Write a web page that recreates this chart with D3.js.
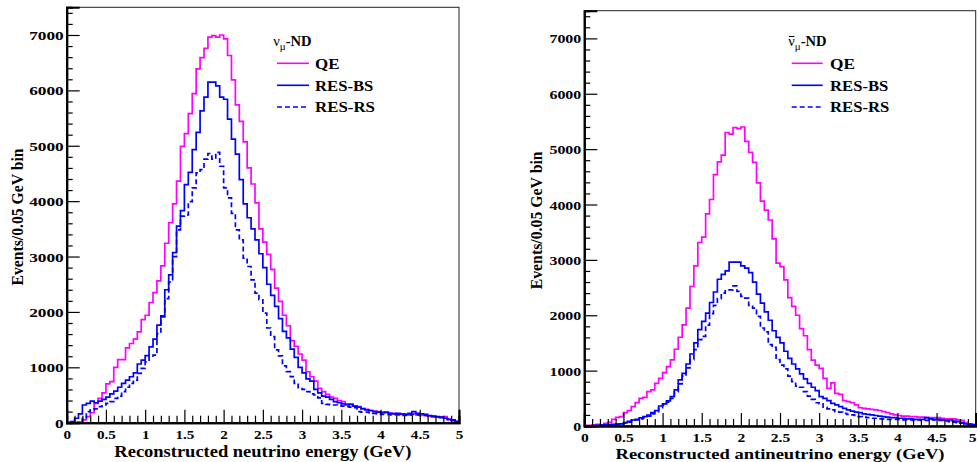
<!DOCTYPE html>
<html>
<head>
<meta charset="utf-8">
<script src="https://cdn.jsdelivr.net/npm/d3@7/dist/d3.min.js"></script>
<style>
  html, body { margin: 0; padding: 0; background: #fff; }
  svg { display: block; }
  text { font-family: "Liberation Serif", "Times New Roman", serif; font-weight: bold; fill: #000; }
</style>
</head>
<body>
<svg id="chart" width="977" height="462"></svg>
<script>
// ---------------- DATA ----------------
const binWidth = 0.05;            // GeV per bin
const xTickValues = [0, 0.5, 1, 1.5, 2, 2.5, 3, 3.5, 4, 4.5, 5];
const yTickValues = [0, 1000, 2000, 3000, 4000, 5000, 6000, 7000];
const seriesNames = ["QE", "RES-BS", "RES-RS"];

// Left panel: nu_mu ND
const nuQE = [
  0, 0, 0, 10, 50, 110, 180, 350, 440, 540,
  700, 740, 1000, 1140, 1140, 1350, 1430, 1510, 1640, 1860,
  1940, 2170, 2350, 2560, 2830, 3240, 3610, 3950, 4360, 4990,
  5220, 5580, 5940, 6390, 6590, 6760, 6960, 6990, 6960, 7000,
  6930, 6630, 6190, 5740, 5440, 5070, 4600, 4310, 3970, 3500,
  3260, 3040, 2770, 2430, 2190, 1940, 1750, 1480, 1380, 1240,
  1130, 920, 830, 750, 620, 560, 510, 460, 440, 400,
  380, 340, 330, 300, 290, 260, 240, 220, 210, 200,
  190, 180, 170, 170, 160, 150, 150, 140, 160, 140,
  130, 130, 120, 110, 100, 100, 110, 60, 40, 30
];
const nuBS = [
  0, 20, 80, 160, 320, 350, 390, 360, 390, 420,
  460, 520, 570, 640, 710, 770, 830, 900, 1060, 1130,
  1210, 1370, 1510, 1760, 1930, 2400, 2670, 3070, 3550, 3830,
  4300, 4520, 4930, 5240, 5630, 5880, 6150, 6150, 6080, 5880,
  5840, 5480, 5120, 4850, 4390, 3950, 3700, 3500, 3300, 3050,
  2800, 2500, 2300, 2100, 1880, 1650, 1530, 1330, 1180, 1000,
  900, 790, 750, 600, 540, 480, 460, 420, 380, 360,
  340, 320, 330, 300, 280, 250, 230, 220, 200, 190,
  180, 190, 170, 160, 170, 160, 150, 170, 200, 170,
  160, 150, 130, 120, 110, 100, 80, 60, 40, 20
];
const nuRS = [
  0, 0, 0, 10, 80, 200, 230, 250, 290, 320,
  350, 380, 440, 480, 560, 640, 710, 770, 890, 980,
  1100, 1200, 1220, 1610, 1910, 2240, 2540, 3000, 3480, 3730,
  3750, 3990, 4240, 4510, 4570, 4760, 4860, 4760, 4880, 4630,
  4240, 4060, 3780, 3480, 3300, 2970, 2820, 2580, 2340, 2220,
  1980, 1710, 1555, 1315, 1206, 1025, 922, 832, 711, 633,
  600, 560, 520, 500, 450, 350, 330, 320, 320, 310,
  300, 290, 280, 270, 200, 190, 190, 180, 170, 160,
  150, 150, 140, 140, 140, 130, 130, 140, 150, 140,
  130, 130, 120, 110, 100, 90, 80, 60, 50, 30
];

// Right panel: anti-nu_mu ND
const nubarQE = [
  10, 10, 20, 30, 18, 48, 66, 120, 157, 169,
  241, 277, 349, 422, 500, 518, 620, 651, 771, 861,
  964, 1072, 1193, 1386, 1603, 1826, 2127, 2519, 2893, 3314,
  3410, 3830, 4090, 4540, 4770, 4890, 5300, 5270, 5390, 5370,
  5400, 5140, 4940, 4760, 4390, 4060, 3900, 3720, 3380, 2940,
  2880, 2640, 2320, 2160, 2000, 1760, 1630, 1380, 1190, 1100,
  1040, 860, 680, 780, 590, 570, 460, 440, 420, 380,
  330, 320, 310, 300, 290, 280, 260, 240, 220, 200,
  190, 180, 180, 170, 170, 160, 160, 150, 150, 150,
  150, 140, 130, 130, 130, 110, 100, 60, 40, 30
];
const nubarBS = [
  0, 0, 5, 10, 15, 20, 25, 30, 35, 40,
  60, 84, 108, 120, 145, 169, 199, 241, 277, 361,
  398, 452, 530, 651, 832, 952, 1120, 1300, 1500, 1740,
  1890, 2040, 2230, 2420, 2650, 2740, 2800, 2960, 2960, 2960,
  2890, 2850, 2770, 2600, 2380, 2220, 2060, 1910, 1720, 1600,
  1500, 1350, 1220, 1120, 1030, 940, 850, 770, 700, 640,
  530, 500, 460, 410, 380, 350, 320, 290, 270, 250,
  240, 220, 210, 200, 190, 180, 170, 160, 150, 150,
  140, 140, 130, 130, 120, 120, 120, 150, 130, 120,
  120, 110, 100, 110, 90, 80, 60, 40, 30, 20
];
const nubarRS = [
  0, 0, 0, 5, 10, 15, 20, 25, 30, 35,
  50, 70, 90, 110, 130, 150, 180, 220, 260, 330,
  380, 430, 500, 620, 760, 900, 1050, 1200, 1380, 1560,
  1620, 1820, 2030, 2180, 2300, 2400, 2440, 2460, 2530, 2430,
  2340, 2310, 2180, 2130, 1980, 1770, 1700, 1470, 1420, 1200,
  1100, 1030, 900, 800, 720, 700, 620, 540, 480, 420,
  400, 340, 310, 290, 260, 250, 230, 210, 200, 190,
  170, 160, 150, 140, 140, 130, 130, 120, 120, 120,
  120, 110, 110, 110, 100, 110, 100, 100, 120, 110,
  100, 100, 90, 80, 70, 60, 50, 40, 30, 20
];

// ---------------- DRAW ----------------
const svg = d3.select("#chart");
const FONT = "Liberation Serif";
const W = 977;
const colors = { "QE": "#ff00ff", "RES-BS": "#0000ff", "RES-RS": "#0000ff" };
const dashes = { "QE": null, "RES-BS": null, "RES-RS": "5,3" };

// stretch a text to a target width (reference glyphs are wider than the font)
function fit(sel, target) {
  sel.each(function () {
    const w = this.getComputedTextLength();
    if (w > 0) d3.select(this).attr("textLength", target).attr("lengthAdjust", "spacingAndGlyphs");
  });
}

const panels = [
  { id: "L", left: 66.7, right: 459, top: 7.3, bottom: 422.7,
    series: [nuQE, nuBS, nuRS], xTitle: "Reconstructed neutrino energy (GeV)",
    xTitleY: 457, xTitleW: 297, xTitleFont: 16,
    xLabelY: 439.3, yLabelStretch: 1.28, xLabelStretch: 1.12,
    yTitleX: 22.5, yTitleW: 137, anti: false,
    legendX: 273.3, legendLineX0: 277, legendLineX1: 309, legendTextX: 315,
    legendTextW: [24.5, 58.3, 60] },
  { id: "R", left: 584.3, right: 975.7, top: 10.7, bottom: 426,
    series: [nubarQE, nubarBS, nubarRS], xTitle: "Reconstructed antineutrino energy (GeV)",
    xTitleY: 459.3, xTitleW: 329, xTitleFont: 15.5,
    xLabelY: 442, yLabelStretch: 1.18, xLabelStretch: 1.15,
    yTitleX: 541.5, yTitleW: 138, anti: true,
    legendX: 788.3, legendLineX0: 791.7, legendLineX1: 822.7, legendTextX: 830,
    legendTextW: [25, 58.3, 59.3] }
];

panels.forEach(p => {
  const x = d3.scaleLinear().domain([0, 5]).range([p.left, p.right]);
  const y = d3.scaleLinear().domain([0, 7500]).range([p.bottom, p.top]);
  const g = svg.append("g");

  const clipId = "clip" + p.id;
  svg.append("clipPath").attr("id", clipId).append("rect")
    .attr("x", p.left).attr("y", p.top)
    .attr("width", p.right - p.left).attr("height", p.bottom - p.top);

  // frame
  g.append("rect").attr("x", p.left).attr("y", p.top)
    .attr("width", p.right - p.left).attr("height", p.bottom - p.top)
    .attr("fill", "none").attr("stroke", "#222").attr("stroke-width", 1);

  // histograms
  const line = d3.line().x(d => x(d[0])).y(d => y(d[1])).curve(d3.curveStepAfter);
  p.series.forEach((vals, si) => {
    const name = seriesNames[si];
    const pts = vals.map((v, i) => [i * binWidth, v]);
    pts.push([vals.length * binWidth, vals[vals.length - 1]]);
    g.append("path").attr("d", line(pts))
      .attr("clip-path", `url(#${clipId})`)
      .attr("fill", "none").attr("stroke", colors[name])
      .attr("stroke-width", 1.7)
      .attr("stroke-dasharray", dashes[name]);
  });

  // y axis
  const yMinor = d3.range(0, 7500, 200).filter(v => v % 1000 !== 0);
  const yAxis = g.append("g").attr("transform", `translate(${p.left},0)`)
    .call(d3.axisLeft(y).tickValues(yTickValues).tickSize(-13).tickPadding(3).tickFormat(d3.format("d")));
  g.append("g").attr("transform", `translate(${p.left},0)`)
    .call(d3.axisLeft(y).tickValues(yMinor).tickSize(-6).tickFormat(""));
  // x axis
  const xMinor = d3.range(0, 5.0001, 0.1).filter(v => Math.abs(v * 2 - Math.round(v * 2)) > 1e-6);
  const xAxis = g.append("g").attr("transform", `translate(0,${p.bottom})`)
    .call(d3.axisBottom(x).tickValues(xTickValues).tickSize(-13).tickPadding(6).tickFormat(d3.format("")));
  g.append("g").attr("transform", `translate(0,${p.bottom})`)
    .call(d3.axisBottom(x).tickValues(xMinor).tickSize(-7).tickFormat(""));

  g.selectAll(".domain").attr("stroke", "#000").attr("stroke-width", 2);
  g.selectAll(".tick line").attr("stroke", "#000").attr("stroke-width", 1.2);
  g.selectAll(".tick text").attr("font-family", FONT).attr("font-weight", "bold")
    .attr("font-size", 13.5).attr("fill", "#000");

  yAxis.selectAll(".tick text").attr("dy", "0.34em").each(function () {
    const w = this.getComputedTextLength();
    d3.select(this).attr("textLength", w * p.yLabelStretch).attr("lengthAdjust", "spacingAndGlyphs");
  });
  xAxis.selectAll(".tick text").attr("dy", null).attr("y", p.xLabelY - p.bottom).each(function (d) {
    const w = this.getComputedTextLength() * p.xLabelStretch;
    const sel = d3.select(this).attr("textLength", w).attr("lengthAdjust", "spacingAndGlyphs");
    // keep the label inside the page at the right edge
    const overflow = x(d) + w / 2 - (W - 1);
    if (overflow > 0) sel.attr("x", -overflow);
  });

  // axis titles
  g.append("text").attr("x", (p.left + p.right) / 2).attr("y", p.xTitleY)
    .attr("text-anchor", "middle").attr("font-size", p.xTitleFont).text(p.xTitle)
    .call(fit, p.xTitleW);
  g.append("text").attr("transform", `translate(${p.yTitleX},${(p.top + p.bottom) / 2 + 2}) rotate(-90)`)
    .attr("text-anchor", "middle").attr("font-size", 16.5).text("Events/0.05 GeV bin")
    .call(fit, p.yTitleW);

  // legend
  const lt = g.append("text").attr("x", p.legendX).attr("y", 46).attr("font-size", 14.5);
  lt.append("tspan").attr("font-weight", "normal").text("ν");
  lt.append("tspan").attr("font-weight", "normal").attr("font-size", 11).attr("dy", 4).text("μ");
  lt.append("tspan").attr("dy", -4).text("-ND");
  if (p.anti) {
    const r = lt.node().getExtentOfChar(0);
    g.append("line").attr("x1", r.x + 0.5).attr("x2", r.x + r.width - 0.5)
      .attr("y1", r.y + 3.5).attr("y2", r.y + 3.5)
      .attr("stroke", "#000").attr("stroke-width", 1);
  }
  const legY = [63.3, 85.3, 107];
  seriesNames.forEach((name, i) => {
    g.append("line").attr("x1", p.legendLineX0).attr("x2", p.legendLineX1)
      .attr("y1", legY[i]).attr("y2", legY[i])
      .attr("stroke", colors[name]).attr("stroke-width", 1.6)
      .attr("stroke-dasharray", dashes[name]);
    g.append("text").attr("x", p.legendTextX).attr("y", legY[i] + 5.3)
      .attr("font-size", 15).text(name)
      .call(fit, p.legendTextW[i]);
  });
});
</script>
</body>
</html>
